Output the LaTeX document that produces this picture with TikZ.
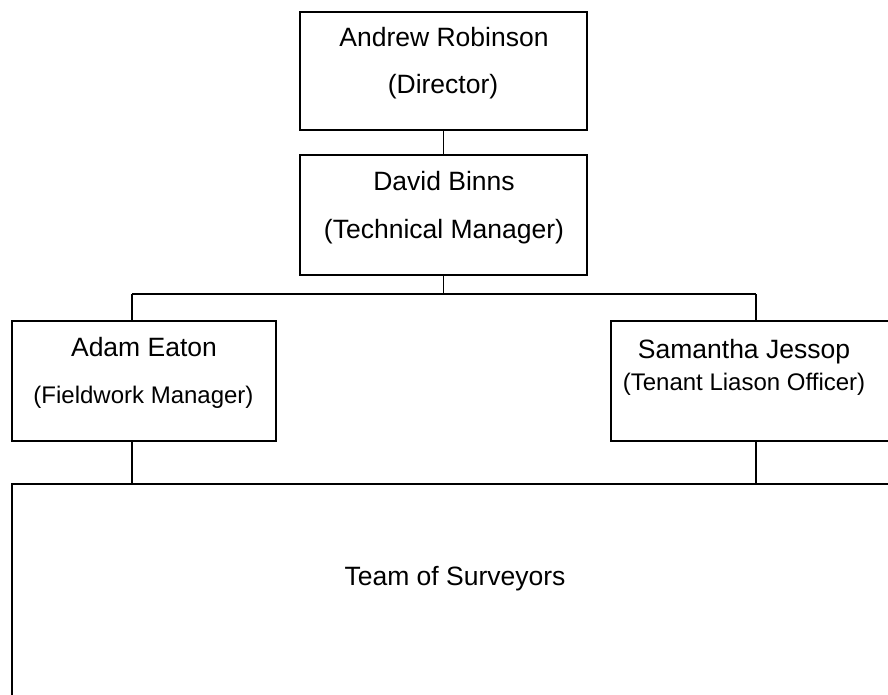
\documentclass[tikz,border=0pt]{standalone}
\usepackage{fontspec}
\setmainfont{Liberation Sans}
\begin{document}
\begin{tikzpicture}[x=1pt,y=-1pt,
  box/.style={draw=black,line width=1.9pt,rectangle,inner sep=0pt},
  conn/.style={draw=black,line width=1.9pt},
  big/.style={anchor=base,inner sep=0pt,font=\fontsize{26.5}{30}\selectfont},
  small/.style={anchor=base,inner sep=0pt,font=\fontsize{24}{28}\selectfont}]
\useasboundingbox (0,0) rectangle (888,695);
\clip (0,0) rectangle (888,695);
% boxes
\node[box,minimum width=287pt,minimum height=118pt] (dir) at (443.5,71) {};
\node[box,minimum width=287pt,minimum height=120pt] (tech) at (443.5,215) {};
\node[box,minimum width=264pt,minimum height=120pt] (adam) at (144,381) {};
\node[box,minimum width=287pt,minimum height=120pt] (sam) at (754.5,381) {};
\node[box,minimum width=890pt,minimum height=230pt] (team) at (457,599) {};
% texts
\node[big] (t1) at (444,47) {Andrew Robinson};
\node[big] (t2) at (443,94) {(Director)};
\node[big] (t3) at (444,190.5) {David Binns};
\node[big] (t4) at (444,238) {(Technical Manager)};
\node[big] (t5) at (144,356) {Adam Eaton};
\node[small] (t6) at (143.5,403) {(Fieldwork Manager)};
\node[big] (t7) at (744,358) {Samantha Jessop};
\node[small] (t8) at (744,390) {(Tenant Liason Officer)};
\node[big] (t9) at (455,585) {Team of Surveyors};
% connectors
\coordinate (aL) at (132,294);
\coordinate (sR) at (756,294);
\draw[conn] (dir.south) -- (tech.north);
\draw[conn] (tech.south) -- (tech.south |- aL);
\draw[conn] (aL) -- (sR);
\draw[conn] (aL) -- (aL |- adam.north);
\draw[conn] (sR) -- (sR |- sam.north);
\draw[conn] (aL |- adam.south) -- (aL |- team.north);
\draw[conn] (sR |- sam.south) -- (sR |- team.north);
\end{tikzpicture}
\end{document}
